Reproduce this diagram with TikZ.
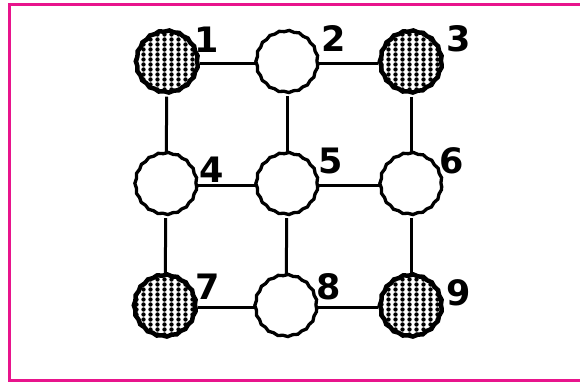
\documentclass[tikz,border=0pt]{standalone}
\usepackage{fontspec}
\setmainfont{DejaVu Sans}
\usetikzlibrary{patterns.meta,decorations.pathmorphing}
\definecolor{framemag}{RGB}{232,20,140}
\tikzdeclarepattern{
  name=vdots,
  type=uncolored,
  bottom left={(-.1pt,-.1pt)},
  top right={(7.1pt,5.1pt)},
  tile size={(7pt,5pt)},
  code={\fill (3.5pt,2.5pt) circle (2.2pt);}
}
\begin{document}
\begin{tikzpicture}[x=1pt,y=1pt,
  site/.style={circle, minimum size=61pt, inner sep=0pt, line width=3.3pt, draw=black,
    decorate, decoration={snake, segment length=10pt, amplitude=0.6pt}},
  plain/.style={site, fill=white},
  dark/.style={site, line width=4.5pt, pattern={vdots}, pattern color=black},
  lab/.style={inner sep=0pt, font=\fontsize{35}{35}\selectfont\bfseries},
  link/.style={line width=3pt, draw=black}]
\useasboundingbox (0,0) rectangle (580,382);
\draw[framemag, line width=3pt] (580,377.3) -- (9,377.3) -- (9,1.7) -- (580,1.7);
% nodes
\node[dark]  (n1) at (167,318) {};
\node[plain] (n2) at (287,318) {};
\node[dark]  (n3) at (411,318) {};
\node[plain] (n4) at (166,196) {};
\node[plain] (n5) at (287,196) {};
\node[plain] (n6) at (411,196) {};
\node[dark]  (n7) at (165,74) {};
\node[plain] (n8) at (286,74) {};
\node[dark]  (n9) at (411,74) {};
% labels
\node[lab] (l1) at (207,342) {1};
\node[lab] (l2) at (334,343) {2};
\node[lab] (l3) at (459,343) {3};
\node[lab] (l4) at (212,212) {4};
\node[lab] (l5) at (331,221) {5};
\node[lab] (l6) at (452,221) {6};
\node[lab] (l7) at (208,95) {7};
\node[lab] (l8) at (329,95) {8};
\node[lab] (l9) at (459,89) {9};
% connectors
\draw[link] (n1) -- (n2);
\draw[link] (n2) -- (n3);
\draw[link] (n4) -- (n5);
\draw[link] (n5) -- (n6);
\draw[link] (n7) -- (n8);
\draw[link] (n8) -- (n9);
\draw[link] (n1) -- (n4);
\draw[link] (n4) -- (n7);
\draw[link] (n2) -- (n5);
\draw[link] (n5) -- (n8);
\draw[link] (n3) -- (n6);
\draw[link] (n6) -- (n9);
\end{tikzpicture}
\end{document}
